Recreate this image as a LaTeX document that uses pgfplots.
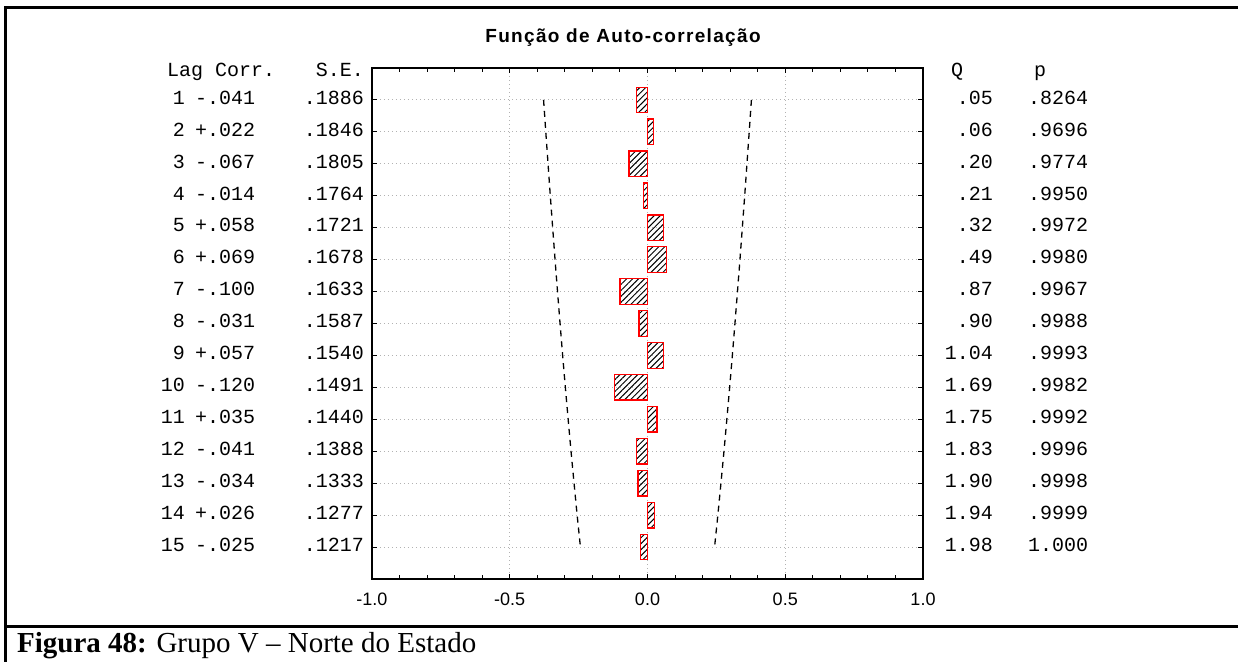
\documentclass[border=0pt]{standalone}
\usepackage{fontspec}
\usepackage{pgfplots}
\pgfplotsset{compat=1.18}
\usetikzlibrary{patterns.meta}
\setmainfont{Liberation Serif}
\newfontfamily\monofont{Liberation Mono}
\newfontfamily\sansfont{Liberation Sans}
\newfontfamily\titlefont[LetterSpace=7]{Liberation Sans}

\begin{document}
\begin{tikzpicture}[x=1bp,y=1bp]
\useasboundingbox (-372,-83) rectangle (866,579);
% frame
\draw[line width=3bp] (-366,-83) -- (-366,571) -- (866,571);
\draw[line width=3bp] (-366,-48) -- (866,-48);
\begin{axis}[at={(0,0)}, anchor=south west, scale only axis,
  width=551bp, height=511bp,
  xmin=-1, xmax=1, ymin=0, ymax=16, y dir=reverse,
  axis line style={line width=1.4bp},
  xtick={-1,-0.5,0,0.5,1},
  xticklabels={-1.0,-0.5,0.0,0.5,1.0},
  minor x tick num=4,
  ytick={1,...,15}, yticklabels={},
  tick align=inside,
  xtick pos=both, ytick pos=both,
  major tick length=5bp, minor tick length=4bp,
  tick style={black, line width=1bp},
  grid=major,
  major grid style={line width=1bp, gray!60, dash pattern=on 1bp off 3bp},
  xticklabel style={font=\sansfont\fontsize{18bp}{22bp}\selectfont, yshift=-10bp},
  clip=false,
]
\addplot[xbar, bar width=0.8, draw=red, line width=1.3bp,
  pattern={Lines[angle=45,distance=4.2bp,line width=1bp]}, pattern color=black]
 coordinates {(-0.041,1) (0.022,2) (-0.067,3) (-0.014,4) (0.058,5) (0.069,6) (-0.100,7) (-0.031,8) (0.057,9) (-0.120,10) (0.035,11) (-0.041,12) (-0.034,13) (0.026,14) (-0.025,15)};
\addplot[black, line width=1.3bp, dash pattern=on 6bp off 5bp]
 coordinates {(-0.3772,1) (-0.3692,2) (-0.3610,3) (-0.3528,4) (-0.3442,5) (-0.3356,6) (-0.3266,7) (-0.3174,8) (-0.3080,9) (-0.2982,10) (-0.2880,11) (-0.2776,12) (-0.2666,13) (-0.2554,14) (-0.2434,15)};
\addplot[black, line width=1.3bp, dash pattern=on 6bp off 5bp]
 coordinates {(0.3772,1) (0.3692,2) (0.3610,3) (0.3528,4) (0.3442,5) (0.3356,6) (0.3266,7) (0.3174,8) (0.3080,9) (0.2982,10) (0.2880,11) (0.2776,12) (0.2666,13) (0.2554,14) (0.2434,15)};
\end{axis}
% title
\node[font=\titlefont\bfseries\fontsize{19bp}{22bp}\selectfont, inner sep=0] at (251,541) {Função de Auto-correlação};
% headers and table
\begin{scope}[every node/.style={font=\monofont\fontsize{20bp}{24bp}\selectfont, inner sep=0}]
\node[anchor=mid west] at (-205,505) {Lag Corr.};
\node[anchor=mid east] at (-8,505) {S.E.};
\node[anchor=mid] at (585,505) {Q};
\node[anchor=mid] at (668,505) {p};
\foreach \k/\cc/\se/\qq/\pp in {1/-.041/.1886/.05/.8264, 2/+.022/.1846/.06/.9696, 3/-.067/.1805/.20/.9774, 4/-.014/.1764/.21/.9950, 5/+.058/.1721/.32/.9972, 6/+.069/.1678/.49/.9980, 7/-.100/.1633/.87/.9967, 8/-.031/.1587/.90/.9988, 9/+.057/.1540/1.04/.9993, 10/-.120/.1491/1.69/.9982, 11/+.035/.1440/1.75/.9992, 12/-.041/.1388/1.83/.9996, 13/-.034/.1333/1.90/.9998, 14/+.026/.1277/1.94/.9999, 15/-.025/.1217/1.98/1.000}{
  \node[anchor=mid east] at (-187,{509-31.9375*\k}) {\k};
  \node[anchor=mid west] at (-177,{509-31.9375*\k}) {\cc};
  \node[anchor=mid east] at (-8,{509-31.9375*\k}) {\se};
  \node[anchor=mid east] at (621,{509-31.9375*\k}) {\qq};
  \node[anchor=mid west] at (656,{509-31.9375*\k}) {\pp};
}
\end{scope}
% caption
\node[anchor=base west, inner sep=0, font=\fontsize{29bp}{34bp}\selectfont] at (-355,-74) {\textbf{Figura 48:} Grupo V – Norte do Estado};
\end{tikzpicture}
\end{document}
